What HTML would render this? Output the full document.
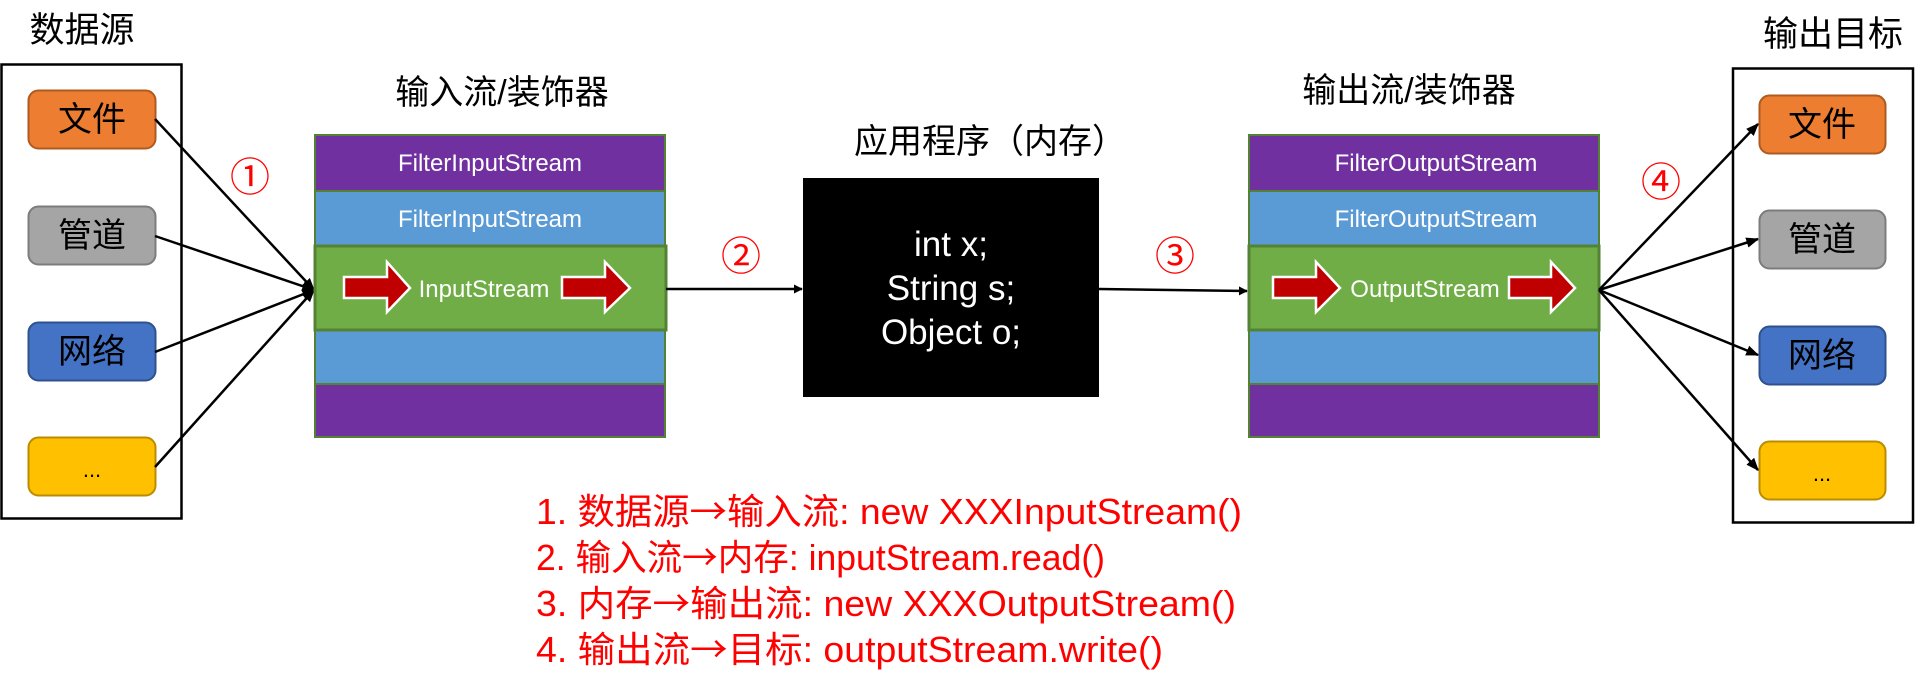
<!DOCTYPE html>
<html><head><meta charset="utf-8"><style>
html,body{margin:0;padding:0;background:#fff;}
svg{display:block;}
text{font-family:"Liberation Sans","Noto Sans CJK SC",sans-serif;}
.cj{font-family:"Noto Sans CJK SC",sans-serif;}
</style></head><body>
<svg width="1924" height="678" viewBox="0 0 1924 678" xmlns="http://www.w3.org/2000/svg">
<defs>
<marker id="ah" viewBox="0 0 10 10" refX="9" refY="5" markerWidth="9" markerHeight="9" orient="auto" markerUnits="userSpaceOnUse">
<path d="M0,0 L10,5 L0,10 z" fill="#000"/>
</marker>
<marker id="ah2" viewBox="0 0 10 10" refX="9" refY="5" markerWidth="13" markerHeight="13" orient="auto" markerUnits="userSpaceOnUse">
<path d="M0,1 L10,5 L0,9 z" fill="#000"/>
</marker>
</defs>

<!-- left source -->
<text x="82" y="42" font-size="35" text-anchor="middle" fill="#000">数据源</text>
<rect x="1.5" y="64.5" width="180" height="454" fill="none" stroke="#000" stroke-width="2.5"/>
<rect x="28.5" y="90.5" width="127" height="58" rx="10" fill="#ED7D31" stroke="#AE5A21" stroke-width="2"/>
<text x="92" y="131" font-size="34" text-anchor="middle">文件</text>
<rect x="28.5" y="206.5" width="127" height="58" rx="10" fill="#A5A5A5" stroke="#7C7C7C" stroke-width="2"/>
<text x="92" y="247" font-size="34" text-anchor="middle">管道</text>
<rect x="28.5" y="322.5" width="127" height="58" rx="10" fill="#4472C4" stroke="#2F528F" stroke-width="2"/>
<text x="92" y="363" font-size="34" text-anchor="middle">网络</text>
<rect x="28.5" y="437.5" width="127" height="58" rx="10" fill="#FFC000" stroke="#BC8C00" stroke-width="2"/>
<text x="92" y="477" font-size="22" text-anchor="middle">...</text>

<line x1="155" y1="119" x2="314" y2="290" stroke="#000" stroke-width="2.5" marker-end="url(#ah2)"/>
<line x1="155" y1="236" x2="314" y2="290" stroke="#000" stroke-width="2.5" marker-end="url(#ah2)"/>
<line x1="155" y1="352" x2="314" y2="290" stroke="#000" stroke-width="2.5" marker-end="url(#ah2)"/>
<line x1="155" y1="467" x2="314" y2="290" stroke="#000" stroke-width="2.5" marker-end="url(#ah2)"/>
<text x="250" y="191" font-size="40" text-anchor="middle" fill="#FF0000" class="cj">①</text>

<!-- input stack -->
<text x="502" y="104" font-size="34" text-anchor="middle">输入流/装饰器</text>
<rect x="315" y="135" width="350" height="302" fill="#7030A0" stroke="#548235" stroke-width="2"/>
<rect x="315" y="191" width="350" height="55" fill="#5B9BD5" stroke="#548235" stroke-width="2"/>
<rect x="315" y="330" width="350" height="54" fill="#5B9BD5" stroke="#548235" stroke-width="2"/>
<rect x="315" y="246" width="351" height="84" fill="#70AD47" stroke="#548235" stroke-width="3"/>
<text x="490" y="171" font-size="24" text-anchor="middle" fill="#fff">FilterInputStream</text>
<text x="490" y="227" font-size="24" text-anchor="middle" fill="#fff">FilterInputStream</text>
<text x="484" y="297" font-size="24" text-anchor="middle" fill="#fff">InputStream</text>
<path d="M344,277 L387,277 L387,262 L410,288 L387,312 L387,298 L344,298 z" fill="#C00000" stroke="#fff" stroke-width="2.5"/>
<path d="M562,277 L605,277 L605,262 L630,288 L605,312 L605,298 L562,298 z" fill="#C00000" stroke="#fff" stroke-width="2.5"/>

<line x1="666" y1="289" x2="802" y2="289" stroke="#000" stroke-width="2.5" marker-end="url(#ah)"/>
<text x="741" y="270" font-size="40" text-anchor="middle" fill="#FF0000" class="cj">②</text>

<!-- app -->
<text x="990" y="153" font-size="34" text-anchor="middle">应用程序（内存）</text>
<rect x="803" y="178" width="296" height="219" fill="#000"/>
<text x="951" y="256" font-size="35" text-anchor="middle" fill="#fff">int x;</text>
<text x="951" y="300" font-size="35" text-anchor="middle" fill="#fff">String s;</text>
<text x="951" y="344" font-size="35" text-anchor="middle" fill="#fff">Object o;</text>

<line x1="1099" y1="289" x2="1247" y2="291" stroke="#000" stroke-width="2.5" marker-end="url(#ah)"/>
<text x="1175" y="270" font-size="40" text-anchor="middle" fill="#FF0000" class="cj">③</text>

<!-- output stack -->
<text x="1409" y="102" font-size="34" text-anchor="middle">输出流/装饰器</text>
<rect x="1249" y="135" width="350" height="302" fill="#7030A0" stroke="#548235" stroke-width="2"/>
<rect x="1249" y="191" width="350" height="55" fill="#5B9BD5" stroke="#548235" stroke-width="2"/>
<rect x="1249" y="330" width="350" height="54" fill="#5B9BD5" stroke="#548235" stroke-width="2"/>
<rect x="1249" y="246" width="350" height="84" fill="#70AD47" stroke="#548235" stroke-width="3"/>
<text x="1436" y="171" font-size="24" text-anchor="middle" fill="#fff">FilterOutputStream</text>
<text x="1436" y="227" font-size="24" text-anchor="middle" fill="#fff">FilterOutputStream</text>
<text x="1425" y="297" font-size="24" text-anchor="middle" fill="#fff">OutputStream</text>
<path d="M1273,277 L1316,277 L1316,262 L1340,288 L1316,312 L1316,298 L1273,298 z" fill="#C00000" stroke="#fff" stroke-width="2.5"/>
<path d="M1509,277 L1551,277 L1551,262 L1575,288 L1551,312 L1551,298 L1509,298 z" fill="#C00000" stroke="#fff" stroke-width="2.5"/>

<line x1="1599" y1="290" x2="1758" y2="124" stroke="#000" stroke-width="2.5" marker-end="url(#ah2)"/>
<line x1="1599" y1="290" x2="1758" y2="239" stroke="#000" stroke-width="2.5" marker-end="url(#ah2)"/>
<line x1="1599" y1="290" x2="1758" y2="355" stroke="#000" stroke-width="2.5" marker-end="url(#ah2)"/>
<line x1="1599" y1="290" x2="1758" y2="470" stroke="#000" stroke-width="2.5" marker-end="url(#ah2)"/>
<text x="1661" y="196" font-size="40" text-anchor="middle" fill="#FF0000" class="cj">④</text>

<!-- right target -->
<text x="1833" y="46" font-size="35" text-anchor="middle">输出目标</text>
<rect x="1733" y="68.5" width="180" height="454" fill="none" stroke="#000" stroke-width="2.5"/>
<rect x="1759.5" y="95.5" width="126" height="58" rx="10" fill="#ED7D31" stroke="#AE5A21" stroke-width="2"/>
<text x="1822" y="136" font-size="34" text-anchor="middle">文件</text>
<rect x="1759.5" y="210.5" width="126" height="58" rx="10" fill="#A5A5A5" stroke="#7C7C7C" stroke-width="2"/>
<text x="1822" y="251" font-size="34" text-anchor="middle">管道</text>
<rect x="1759.5" y="326.5" width="126" height="58" rx="10" fill="#4472C4" stroke="#2F528F" stroke-width="2"/>
<text x="1822" y="367" font-size="34" text-anchor="middle">网络</text>
<rect x="1759.5" y="441.5" width="126" height="58" rx="10" fill="#FFC000" stroke="#BC8C00" stroke-width="2"/>
<text x="1822" y="481" font-size="22" text-anchor="middle">...</text>

<!-- notes -->
<g font-size="36" fill="#FF0000">
<text x="536" y="524" textLength="706" lengthAdjust="spacingAndGlyphs">1. 数据源<tspan class="cj">→</tspan>输入流: new XXXInputStream()</text>
<text x="536" y="570" textLength="569" lengthAdjust="spacingAndGlyphs">2. 输入流<tspan class="cj">→</tspan>内存: inputStream.read()</text>
<text x="536" y="616" textLength="700" lengthAdjust="spacingAndGlyphs">3. 内存<tspan class="cj">→</tspan>输出流: new XXXOutputStream()</text>
<text x="536" y="662" textLength="627" lengthAdjust="spacingAndGlyphs">4. 输出流<tspan class="cj">→</tspan>目标: outputStream.write()</text>
</g>
</svg>
</body></html>
